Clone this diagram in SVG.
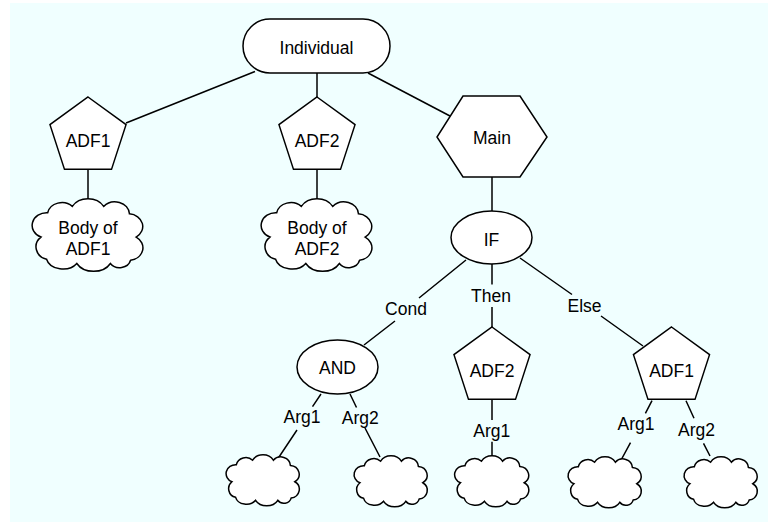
<svg xmlns="http://www.w3.org/2000/svg" xmlns:xlink="http://www.w3.org/1999/xlink" width="768" height="522" viewBox="0 0 768 522">
  <style>
    .shape { fill: #ffffff; stroke: #000000; stroke-width: 1.5; }
    .cloud { fill: #ffffff; stroke: #000000; stroke-width: 1.5; vector-effect: non-scaling-stroke; }
    .edge { fill: none; stroke: #000000; stroke-width: 1.5; }
    text { font-family: "Liberation Sans", Arial, Helvetica, sans-serif; font-size: 17.5px; text-anchor: middle; fill: #000000; }
  </style>
  <defs>
    <!-- regular pentagon, circumradius 40, centred on the origin -->
    <polygon id="pentagon" class="shape" points="0,-40 38.04,-12.36 23.51,32.36 -23.51,32.36 -38.04,-12.36"/>
    <!-- cloud outline in a 100 x 70 box -->
    <path id="cloud" class="cloud" d="M14,13 A13,12 0 0 1 36,7 A16,14 0 0 1 64,7 A13,12 0 0 1 87,14 A13,12 0 0 1 93,36 A13,12 0 0 1 88,58 A10,9 0 0 1 70,61 A17,14 0 0 1 40,61 A15,12 0 0 1 13,57 A12,12 0 0 1 8,36 A13,12 0 0 1 14,13 Z"/>
  </defs>

  <rect x="10" y="3" width="758" height="519" fill="#f0ffff"/>

  <g id="connectors">
    <path class="edge" d="M255,71.5 L126,123"/>
    <path class="edge" d="M317,73 L317,97"/>
    <path class="edge" d="M368,73 L450,116"/>
    <path class="edge" d="M88,169 L88,201"/>
    <path class="edge" d="M317,169 L317,201"/>
    <path class="edge" d="M492,177 L492,211"/>
    <!-- IF branches, broken where the labels sit -->
    <path class="edge" d="M466,260 L419,298 M395,321 L364,345"/>
    <path class="edge" d="M492,264 L492,284.5 M492,307 L492,327"/>
    <path class="edge" d="M520,258 L572,294.5 M601,316 L643,346"/>
    <!-- argument links -->
    <path class="edge" d="M321,394 L312.5,406.7 M297,430 L277,460"/>
    <path class="edge" d="M350,394 L356.5,407.5 M365,428 L380,457"/>
    <path class="edge" d="M492,399 L492,420 M492,441.7 L492,457"/>
    <path class="edge" d="M652,400.7 L645.4,413.3 M630.5,442.7 L620,462"/>
    <path class="edge" d="M686,400.7 L694,418.3 M703.5,443.3 L710,456"/>
    <text x="406" y="315">Cond</text>
    <text x="491" y="301.7">Then</text>
    <text x="584.5" y="311.5">Else</text>
    <text x="302" y="423.3">Arg1</text>
    <text x="360.3" y="424">Arg2</text>
    <text x="491.7" y="437.3">Arg1</text>
    <text x="636" y="430">Arg1</text>
    <text x="696.5" y="436">Arg2</text>
  </g>

  <g id="individual">
    <rect class="shape" x="243" y="19" width="147" height="54" rx="27" ry="27"/>
    <text x="316.5" y="54">Individual</text>
  </g>

  <g id="adf1">
    <use xlink:href="#pentagon" transform="translate(88,137)"/>
    <text x="88" y="147">ADF1</text>
  </g>

  <g id="adf2">
    <use xlink:href="#pentagon" transform="translate(317,137)"/>
    <text x="317" y="147">ADF2</text>
  </g>

  <g id="main">
    <polygon class="shape" points="463,96 520,96 547,137 520,177 463,177 437,137"/>
    <text x="492" y="144">Main</text>
  </g>

  <g id="body-adf1">
    <use xlink:href="#cloud" transform="translate(32,199) scale(1.12,1.057)"/>
    <text x="88" y="234">Body of</text>
    <text x="88" y="255.3">ADF1</text>
  </g>

  <g id="body-adf2">
    <use xlink:href="#cloud" transform="translate(261,199) scale(1.12,1.057)"/>
    <text x="317" y="234">Body of</text>
    <text x="317" y="255.3">ADF2</text>
  </g>

  <g id="if">
    <ellipse class="shape" cx="491.5" cy="237.5" rx="40.5" ry="26.5"/>
    <text x="491.5" y="245.5">IF</text>
  </g>

  <g id="and">
    <ellipse class="shape" cx="337.5" cy="367" rx="40.5" ry="27"/>
    <text x="337.5" y="374">AND</text>
  </g>

  <g id="then-adf2">
    <use xlink:href="#pentagon" transform="translate(492,367)"/>
    <text x="492" y="377">ADF2</text>
  </g>

  <g id="else-adf1">
    <use xlink:href="#pentagon" transform="translate(671.5,367)"/>
    <text x="671.5" y="377">ADF1</text>
  </g>

  <g id="and-arg1">
    <use xlink:href="#cloud" transform="translate(226,455) scale(0.74,0.743)"/>
  </g>
  <g id="and-arg2">
    <use xlink:href="#cloud" transform="translate(354,456) scale(0.74,0.743)"/>
  </g>
  <g id="adf2-arg1">
    <use xlink:href="#cloud" transform="translate(454.5,456) scale(0.75,0.743)"/>
  </g>
  <g id="adf1-arg1">
    <use xlink:href="#cloud" transform="translate(568,457) scale(0.74,0.743)"/>
  </g>
  <g id="adf1-arg2">
    <use xlink:href="#cloud" transform="translate(684,457) scale(0.74,0.743)"/>
  </g>
</svg>
